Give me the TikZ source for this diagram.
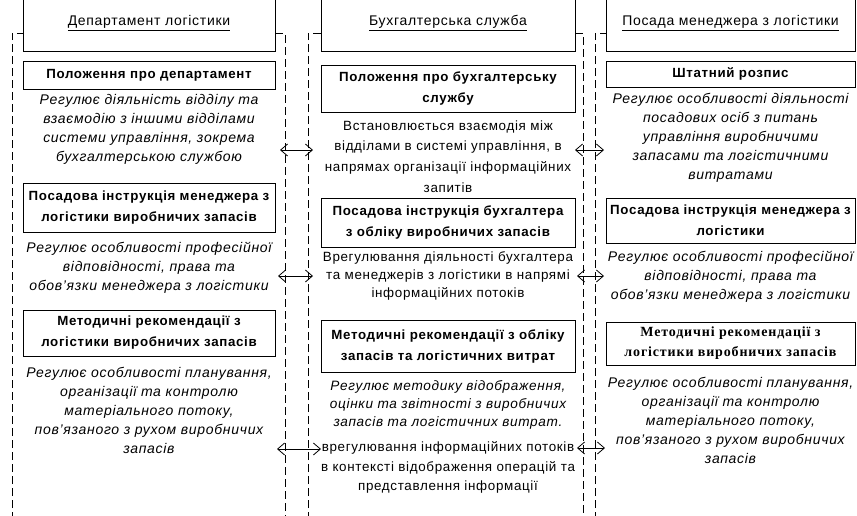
\documentclass[tikz,border=0pt]{standalone}
\usepackage{fontspec}
\setmainfont{Liberation Sans}[LetterSpace=5]
\newfontfamily\timesfont{Liberation Serif}[LetterSpace=6]
\usetikzlibrary{%
  arrows.meta,%
  calc%
}
\tikzset{>={Straight Barb[length=7pt,width=12pt]}}
\tikzset{
  headbox/.style={draw,line width=0.7pt,minimum height=56pt,inner sep=0pt,
    align=center,font=\fontsize{14}{19}\selectfont},
  docbox/.style={draw,line width=0.7pt,inner sep=0pt,align=center,
    font=\bfseries\fontsize{13.3}{21}\selectfont},
  notetext/.style={inner sep=0pt,align=center,font=\itshape\fontsize{14}{19}\selectfont},
  plaintext/.style={inner sep=0pt,align=center,font=\fontsize{13.4}{20.7}\selectfont},
  colframe/.style={dash pattern=on 8pt off 4pt,line width=0.7pt},
  link/.style={<->,line width=0.8pt}
}

\begin{document}
\begin{tikzpicture}[x=1pt,y=-1pt]
  \useasboundingbox (0,0) rectangle (857,515);
  \clip (0,0) rectangle (857,515);
  % dashed frames
  \draw[colframe] (12,520) -- (12,33) -- (23,33);
  \draw[colframe] (275,33) -- (285,33) -- (285,520);
  \draw[colframe] (308,520) -- (308,33) -- (321,33);
  \draw[colframe] (575,33) -- (583,33) -- (583,520);
  \draw[colframe] (595,520) -- (595,33) -- (606,33);
  % logistics department
  \node[headbox,minimum width=252pt] (dephead) at (149,23)
    {\underline{Департамент логістики}};
  \node[docbox,minimum width=252pt,minimum height=28pt] (depdoc1) at (149,75)
    {Положення про департамент};
  \node[notetext] (depnote1) at (149,129)
    {Регулює діяльність відділу та\\взаємодію з іншими відділами\\
     системи управління, зокрема\\бухгалтерською службою};
  \node[docbox,minimum width=252pt,minimum height=49pt] (depdoc2) at (149,207.5)
    {Посадова інструкція менеджера з\\логістики виробничих запасів};
  \node[notetext] (depnote2) at (149,268)
    {Регулює особливості професійної\\відповідності, права та\\
     обов’язки менеджера з логістики};
  \node[docbox,minimum width=252pt,minimum height=46pt] (depdoc3) at (149,333)
    {Методичні рекомендації з\\логістики виробничих запасів};
  \node[notetext] (depnote3) at (149,410)
    {Регулює особливості планування,\\організації та контролю\\
     матеріального потоку,\\пов’язаного з рухом виробничих\\запасів};
  % accounting service
  \node[headbox,minimum width=254pt] (acchead) at (448,23)
    {\underline{Бухгалтерська служба}};
  \node[docbox,minimum width=254pt,minimum height=47pt] (accdoc1) at (448,88.5)
    {Положення про бухгалтерську\\службу};
  \node[plaintext] (accnote1) at (448,156.5)
    {Встановлюється взаємодія між\\відділами в системі управління, в\\
     напрямах організації інформаційних\\запитів};
  \node[docbox,minimum width=254pt,minimum height=49pt] (accdoc2) at (448,222.5)
    {Посадова інструкція бухгалтера\\з обліку виробничих запасів};
  \node[plaintext,font=\fontsize{13.4}{18}\selectfont] (accnote2) at (448,276)
    {Врегулювання діяльності бухгалтера\\та менеджерів з логістики в напрямі\\
     інформаційних потоків};
  \node[docbox,minimum width=254pt,minimum height=52pt] (accdoc3) at (448,346)
    {Методичні рекомендації з обліку\\запасів та логістичних витрат};
  \node[notetext,font=\itshape\fontsize{13.6}{18}\selectfont] (accnote3) at (448,405)
    {Регулює методику відображення,\\оцінки та звітності з виробничих\\
     запасів та логістичних витрат.};
  \node[plaintext,font=\fontsize{13.4}{19.5}\selectfont] (accnote4) at (448,467.5)
    {врегулювання інформаційних потоків\\в контексті відображення операцій та\\
     представлення інформації};
  % logistics manager
  \node[headbox,minimum width=249pt] (manhead) at (730.5,23)
    {\underline{Посада менеджера з логістики}};
  \node[docbox,minimum width=249pt,minimum height=26pt] (mandoc1) at (730.5,74)
    {Штатний розпис};
  \node[notetext] (mannote1) at (730.5,138)
    {Регулює особливості діяльності\\посадових осіб з питань\\
     управління виробничими\\запасами та логістичними\\витратами};
  \node[docbox,minimum width=249pt,minimum height=45pt] (mandoc2) at (730.5,220.5)
    {Посадова інструкція менеджера з\\логістики};
  \node[notetext] (mannote2) at (730.5,277)
    {Регулює особливості професійної\\відповідності, права та\\
     обов’язки менеджера з логістики};
  \node[docbox,minimum width=249pt,minimum height=43pt,
    font=\timesfont\bfseries\fontsize{14}{20}\selectfont] (mandoc3) at (730.5,343.5)
    {Методичні рекомендації з\\логістики виробничих запасів};
  \node[notetext] (mannote3) at (730.5,420)
    {Регулює особливості планування,\\організації та контролю\\
     матеріального потоку,\\пов’язаного з рухом виробничих\\запасів};
  % links between columns
  \coordinate (l1a) at (280,150);
  \coordinate (l1b) at (313,150);
  \coordinate (l2a) at (278,276);
  \coordinate (l2b) at (313,276);
  \coordinate (l3a) at (277,449);
  \coordinate (l3b) at (321,449);
  \coordinate (r1a) at (575,150);
  \coordinate (r1b) at (604,150);
  \coordinate (r2a) at (577,276);
  \coordinate (r2b) at (604,276);
  \coordinate (r3a) at (577,448);
  \coordinate (r3b) at (605,448);
  \draw[link] (l1a) -- (l1b);
  \draw[link] (l2a) -- (l2b);
  \draw[link] (l3a) -- (l3b);
  \draw[link] (r1a) -- (r1b);
  \draw[link] (r2a) -- (r2b);
  \draw[link] (r3a) -- (r3b);
\end{tikzpicture}
\end{document}
